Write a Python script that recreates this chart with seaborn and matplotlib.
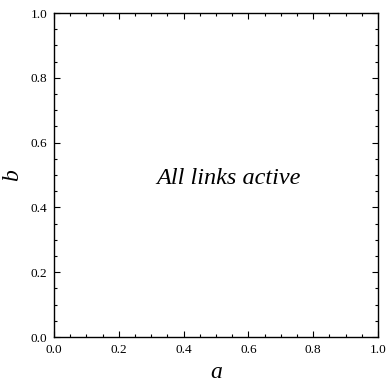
import numpy as np
import pandas as pd
import matplotlib
matplotlib.use("Agg")
import matplotlib.pyplot as plt
from matplotlib.ticker import MultipleLocator
import seaborn as sns

# region plot with no excluded regions: nothing drawn but the label
a_values = []
b_values = []
tick_values = [0.0, 0.2, 0.4, 0.6, 0.8, 1.0]
tick_labels = ["0.0", "0.2", "0.4", "0.6", "0.8", "1.0"]
region_label = "All links active"

sns.set_style("ticks")
plt.rcParams["font.family"] = ["Liberation Serif", "DejaVu Serif"]
plt.rcParams["text.color"] = "black"

fig = plt.figure(figsize=(3.86, 3.83), dpi=100)
ax = fig.add_axes([54 / 386, 1 - 337 / 383, 324 / 386, 324 / 383])

df = pd.DataFrame({"a": a_values, "b": b_values}, dtype=float)
sns.scatterplot(data=df, x="a", y="b", ax=ax)

ax.set_xlim(0, 1)
ax.set_ylim(0, 1)
ax.set_xticks(tick_values)
ax.set_xticklabels(tick_labels)
ax.set_yticks(tick_values)
ax.set_yticklabels(tick_labels)
ax.xaxis.set_minor_locator(MultipleLocator(0.05))
ax.yaxis.set_minor_locator(MultipleLocator(0.05))
ax.tick_params(which="both", direction="in", top=True, right=True,
               labelsize=9.5, colors="black", width=0.8)
ax.tick_params(which="major", length=4)
ax.tick_params(axis="x", which="major", pad=5)
ax.tick_params(axis="y", which="major", pad=5)
ax.tick_params(which="minor", length=2.5)
for s in ax.spines.values():
    s.set_linewidth(1.0)
    s.set_color("black")

ax.set_xlabel("a", fontsize=17, style="italic", labelpad=4, color="black")
ax.set_ylabel("b", fontsize=17, style="italic", labelpad=5, color="black")
ax.text(0.54, 0.49, region_label, transform=ax.transAxes, ha="center",
        va="center", fontsize=17.5, style="italic", color="black")

fig.savefig("out.png", dpi=100)
